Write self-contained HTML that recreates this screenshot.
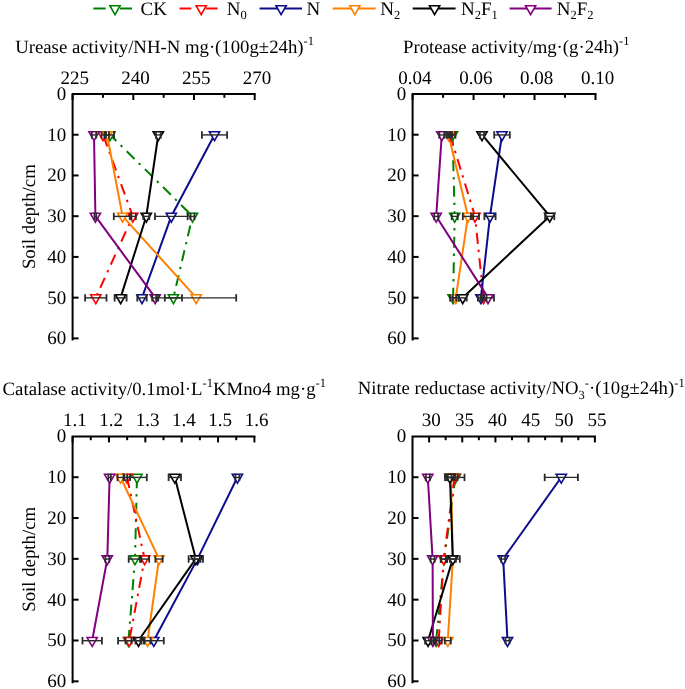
<!DOCTYPE html>
<html><head><meta charset="utf-8"><style>html,body{margin:0;padding:0;background:#fff;width:685px;height:689px;overflow:hidden}</style></head><body>
<svg width="685" height="689" viewBox="0 0 685 689" style="display:block;font-family:'Liberation Serif', serif;text-rendering:geometricPrecision;will-change:transform">
<rect width="685" height="689" fill="#fff"/>
<line x1="93.3" y1="8.5" x2="105.7" y2="8.5" stroke="#008000" stroke-width="2.0"/>
<line x1="120.0" y1="8.5" x2="132.0" y2="8.5" stroke="#008000" stroke-width="2.0"/>
<polygon points="109.90,5.76 120.10,5.76 115.00,14.59" fill="#fff" stroke="#008000" stroke-width="1.6" stroke-linejoin="miter"/>
<text x="140.5" y="14.9" font-size="19" fill="#000"><tspan y="14.9">CK</tspan></text>
<line x1="179.6" y1="8.5" x2="191.3" y2="8.5" stroke="#ff0000" stroke-width="2.0"/>
<line x1="206.2" y1="8.5" x2="217.6" y2="8.5" stroke="#ff0000" stroke-width="2.0"/>
<polygon points="196.10,5.76 206.30,5.76 201.20,14.59" fill="#fff" stroke="#ff0000" stroke-width="1.6" stroke-linejoin="miter"/>
<text x="226.8" y="14.9" font-size="19" fill="#000"><tspan y="14.9">N</tspan><tspan font-size="12.5" y="19.4">0</tspan></text>
<line x1="259.6" y1="8.5" x2="302.0" y2="8.5" stroke="#0c0c8c" stroke-width="2.0"/>
<polygon points="276.00,5.76 286.20,5.76 281.10,14.59" fill="#fff" stroke="#0c0c8c" stroke-width="1.6" stroke-linejoin="miter"/>
<text x="306.6" y="14.9" font-size="19" fill="#000"><tspan y="14.9">N</tspan></text>
<line x1="332.7" y1="8.5" x2="375.6" y2="8.5" stroke="#ff8000" stroke-width="2.0"/>
<polygon points="349.70,5.76 359.90,5.76 354.80,14.59" fill="#fff" stroke="#ff8000" stroke-width="1.6" stroke-linejoin="miter"/>
<text x="380.2" y="14.9" font-size="19" fill="#000"><tspan y="14.9">N</tspan><tspan font-size="12.5" y="19.4">2</tspan></text>
<line x1="412.7" y1="8.5" x2="455.6" y2="8.5" stroke="#000000" stroke-width="2.0"/>
<polygon points="429.50,5.76 439.70,5.76 434.60,14.59" fill="#fff" stroke="#000000" stroke-width="1.6" stroke-linejoin="miter"/>
<text x="461.0" y="14.9" font-size="19" fill="#000"><tspan y="14.9">N</tspan><tspan font-size="12.5" y="19.4">2</tspan><tspan y="14.9">F</tspan><tspan font-size="12.5" y="19.4">1</tspan></text>
<line x1="509.6" y1="8.5" x2="551.6" y2="8.5" stroke="#800080" stroke-width="2.0"/>
<polygon points="525.50,5.76 535.70,5.76 530.60,14.59" fill="#fff" stroke="#800080" stroke-width="1.6" stroke-linejoin="miter"/>
<text x="556.8" y="14.9" font-size="19" fill="#000"><tspan y="14.9">N</tspan><tspan font-size="12.5" y="19.4">2</tspan><tspan y="14.9">F</tspan><tspan font-size="12.5" y="19.4">2</tspan></text>
<text x="15.2" y="52.8" font-size="18.75"><tspan y="52.8">Urease activity/NH-N mg·(100g±24h)</tspan><tspan font-size="12.5" y="45.00">-1</tspan></text>
<text x="403.0" y="52.9" font-size="18.75"><tspan y="52.9">Protease activity/mg·(g·24h)</tspan><tspan font-size="12.5" y="45.10">-1</tspan></text>
<text x="2.6" y="394.9" font-size="18.75"><tspan y="394.9">Catalase activity/0.1mol·L</tspan><tspan font-size="12.5" y="387.10">-1</tspan><tspan y="394.9">KMno4 mg·g</tspan><tspan font-size="12.5" y="387.10">-1</tspan></text>
<text x="357.8" y="394.3" font-size="18.75"><tspan y="394.3">Nitrate reductase activity/NO</tspan><tspan font-size="12.5" y="398.80">3</tspan><tspan font-size="12.5" y="386.50">-</tspan><tspan y="394.3">·(10g±24h)</tspan><tspan font-size="12.5" y="386.50">-1</tspan></text>
<g><path d="M72.60,339.38 L72.60,94.00 L254.70,94.00" fill="none" stroke="#000" stroke-width="2" stroke-linecap="square"/>
<line x1="72.60" y1="94.00" x2="72.60" y2="100.00" stroke="#000" stroke-width="2"/>
<line x1="133.30" y1="94.00" x2="133.30" y2="100.00" stroke="#000" stroke-width="2"/>
<line x1="194.00" y1="94.00" x2="194.00" y2="100.00" stroke="#000" stroke-width="2"/>
<line x1="254.70" y1="94.00" x2="254.70" y2="100.00" stroke="#000" stroke-width="2"/>
<line x1="102.95" y1="94.00" x2="102.95" y2="97.80" stroke="#000" stroke-width="2"/>
<line x1="163.65" y1="94.00" x2="163.65" y2="97.80" stroke="#000" stroke-width="2"/>
<line x1="224.35" y1="94.00" x2="224.35" y2="97.80" stroke="#000" stroke-width="2"/>
<text x="74.80" y="83.50" font-size="19" text-anchor="middle">225</text>
<text x="135.50" y="83.50" font-size="19" text-anchor="middle">240</text>
<text x="196.20" y="83.50" font-size="19" text-anchor="middle">255</text>
<text x="256.90" y="83.50" font-size="19" text-anchor="middle">270</text>
<text x="66.30" y="99.90" font-size="19" text-anchor="end">0</text>
<line x1="72.60" y1="134.73" x2="78.60" y2="134.73" stroke="#000" stroke-width="2"/>
<text x="66.30" y="140.63" font-size="19" text-anchor="end">10</text>
<line x1="72.60" y1="175.46" x2="78.60" y2="175.46" stroke="#000" stroke-width="2"/>
<text x="66.30" y="181.36" font-size="19" text-anchor="end">20</text>
<line x1="72.60" y1="216.19" x2="78.60" y2="216.19" stroke="#000" stroke-width="2"/>
<text x="66.30" y="222.09" font-size="19" text-anchor="end">30</text>
<line x1="72.60" y1="256.92" x2="78.60" y2="256.92" stroke="#000" stroke-width="2"/>
<text x="66.30" y="262.82" font-size="19" text-anchor="end">40</text>
<line x1="72.60" y1="297.65" x2="78.60" y2="297.65" stroke="#000" stroke-width="2"/>
<text x="66.30" y="303.55" font-size="19" text-anchor="end">50</text>
<line x1="72.60" y1="338.38" x2="78.60" y2="338.38" stroke="#000" stroke-width="2"/>
<text x="66.30" y="344.28" font-size="19" text-anchor="end">60</text>
<text transform="translate(34.8,216.69) rotate(-90)" font-size="18.8" text-anchor="middle">Soil depth/cm</text>
<polyline points="110.00,134.73 192.50,216.19 173.40,297.65" fill="none" stroke="#008000" stroke-width="2.0" stroke-dasharray="11 5.9 2.4 6.2" stroke-dashoffset="2.0" stroke-linejoin="round"/>
<polyline points="103.00,134.73 132.80,216.19 95.80,297.65" fill="none" stroke="#ff0000" stroke-width="2.0" stroke-dasharray="11 5.9 2.4 6.2" stroke-dashoffset="-1.5" stroke-linejoin="round"/>
<polyline points="214.50,134.73 171.30,216.19 142.00,297.65" fill="none" stroke="#0c0c8c" stroke-width="2.0" stroke-linejoin="round"/>
<polyline points="107.00,134.73 122.60,216.19 196.20,297.65" fill="none" stroke="#ff8000" stroke-width="2.0" stroke-linejoin="round"/>
<polyline points="158.30,134.73 146.30,216.19 120.60,297.65" fill="none" stroke="#000000" stroke-width="2.0" stroke-linejoin="round"/>
<polyline points="94.00,134.73 95.40,216.19 155.20,297.65" fill="none" stroke="#800080" stroke-width="2.0" stroke-linejoin="round"/>
<polygon points="104.90,131.79 115.10,131.79 110.00,140.62" fill="#fff" stroke="#008000" stroke-width="1.6" stroke-linejoin="miter"/>
<polygon points="187.40,213.25 197.60,213.25 192.50,222.08" fill="#fff" stroke="#008000" stroke-width="1.6" stroke-linejoin="miter"/>
<polygon points="168.30,294.71 178.50,294.71 173.40,303.54" fill="#fff" stroke="#008000" stroke-width="1.6" stroke-linejoin="miter"/>
<polygon points="97.90,131.79 108.10,131.79 103.00,140.62" fill="#fff" stroke="#ff0000" stroke-width="1.6" stroke-linejoin="miter"/>
<polygon points="127.70,213.25 137.90,213.25 132.80,222.08" fill="#fff" stroke="#ff0000" stroke-width="1.6" stroke-linejoin="miter"/>
<polygon points="90.70,294.71 100.90,294.71 95.80,303.54" fill="#fff" stroke="#ff0000" stroke-width="1.6" stroke-linejoin="miter"/>
<polygon points="209.40,131.79 219.60,131.79 214.50,140.62" fill="#fff" stroke="#0c0c8c" stroke-width="1.6" stroke-linejoin="miter"/>
<polygon points="166.20,213.25 176.40,213.25 171.30,222.08" fill="#fff" stroke="#0c0c8c" stroke-width="1.6" stroke-linejoin="miter"/>
<polygon points="136.90,294.71 147.10,294.71 142.00,303.54" fill="#fff" stroke="#0c0c8c" stroke-width="1.6" stroke-linejoin="miter"/>
<polygon points="101.90,131.79 112.10,131.79 107.00,140.62" fill="#fff" stroke="#ff8000" stroke-width="1.6" stroke-linejoin="miter"/>
<polygon points="117.50,213.25 127.70,213.25 122.60,222.08" fill="#fff" stroke="#ff8000" stroke-width="1.6" stroke-linejoin="miter"/>
<polygon points="191.10,294.71 201.30,294.71 196.20,303.54" fill="#fff" stroke="#ff8000" stroke-width="1.6" stroke-linejoin="miter"/>
<polygon points="153.20,131.79 163.40,131.79 158.30,140.62" fill="#fff" stroke="#000000" stroke-width="1.6" stroke-linejoin="miter"/>
<polygon points="141.20,213.25 151.40,213.25 146.30,222.08" fill="#fff" stroke="#000000" stroke-width="1.6" stroke-linejoin="miter"/>
<polygon points="115.50,294.71 125.70,294.71 120.60,303.54" fill="#fff" stroke="#000000" stroke-width="1.6" stroke-linejoin="miter"/>
<polygon points="88.90,131.79 99.10,131.79 94.00,140.62" fill="#fff" stroke="#800080" stroke-width="1.6" stroke-linejoin="miter"/>
<polygon points="90.30,213.25 100.50,213.25 95.40,222.08" fill="#fff" stroke="#800080" stroke-width="1.6" stroke-linejoin="miter"/>
<polygon points="150.10,294.71 160.30,294.71 155.20,303.54" fill="#fff" stroke="#800080" stroke-width="1.6" stroke-linejoin="miter"/>
<line x1="106.00" y1="134.93" x2="114.00" y2="134.93" stroke="#2a2a2a" stroke-width="1.4"/>
<line x1="106.00" y1="131.23" x2="106.00" y2="138.63" stroke="#2a2a2a" stroke-width="1.8"/>
<line x1="114.00" y1="131.23" x2="114.00" y2="138.63" stroke="#2a2a2a" stroke-width="1.8"/>
<line x1="190.50" y1="216.39" x2="194.50" y2="216.39" stroke="#2a2a2a" stroke-width="1.4"/>
<line x1="190.50" y1="212.69" x2="190.50" y2="220.09" stroke="#2a2a2a" stroke-width="1.8"/>
<line x1="194.50" y1="212.69" x2="194.50" y2="220.09" stroke="#2a2a2a" stroke-width="1.8"/>
<line x1="164.80" y1="297.85" x2="182.00" y2="297.85" stroke="#2a2a2a" stroke-width="1.4"/>
<line x1="164.80" y1="294.15" x2="164.80" y2="301.55" stroke="#2a2a2a" stroke-width="1.8"/>
<line x1="182.00" y1="294.15" x2="182.00" y2="301.55" stroke="#2a2a2a" stroke-width="1.8"/>
<line x1="101.50" y1="134.93" x2="104.50" y2="134.93" stroke="#2a2a2a" stroke-width="1.4"/>
<line x1="101.50" y1="131.23" x2="101.50" y2="138.63" stroke="#2a2a2a" stroke-width="1.8"/>
<line x1="104.50" y1="131.23" x2="104.50" y2="138.63" stroke="#2a2a2a" stroke-width="1.8"/>
<line x1="129.80" y1="216.39" x2="135.80" y2="216.39" stroke="#2a2a2a" stroke-width="1.4"/>
<line x1="129.80" y1="212.69" x2="129.80" y2="220.09" stroke="#2a2a2a" stroke-width="1.8"/>
<line x1="135.80" y1="212.69" x2="135.80" y2="220.09" stroke="#2a2a2a" stroke-width="1.8"/>
<line x1="85.10" y1="297.85" x2="106.50" y2="297.85" stroke="#2a2a2a" stroke-width="1.4"/>
<line x1="85.10" y1="294.15" x2="85.10" y2="301.55" stroke="#2a2a2a" stroke-width="1.8"/>
<line x1="106.50" y1="294.15" x2="106.50" y2="301.55" stroke="#2a2a2a" stroke-width="1.8"/>
<line x1="201.90" y1="134.93" x2="227.10" y2="134.93" stroke="#2a2a2a" stroke-width="1.4"/>
<line x1="201.90" y1="131.23" x2="201.90" y2="138.63" stroke="#2a2a2a" stroke-width="1.8"/>
<line x1="227.10" y1="131.23" x2="227.10" y2="138.63" stroke="#2a2a2a" stroke-width="1.8"/>
<line x1="155.00" y1="216.39" x2="187.60" y2="216.39" stroke="#2a2a2a" stroke-width="1.4"/>
<line x1="155.00" y1="212.69" x2="155.00" y2="220.09" stroke="#2a2a2a" stroke-width="1.8"/>
<line x1="187.60" y1="212.69" x2="187.60" y2="220.09" stroke="#2a2a2a" stroke-width="1.8"/>
<line x1="137.30" y1="297.85" x2="146.70" y2="297.85" stroke="#2a2a2a" stroke-width="1.4"/>
<line x1="137.30" y1="294.15" x2="137.30" y2="301.55" stroke="#2a2a2a" stroke-width="1.8"/>
<line x1="146.70" y1="294.15" x2="146.70" y2="301.55" stroke="#2a2a2a" stroke-width="1.8"/>
<line x1="105.00" y1="134.93" x2="109.00" y2="134.93" stroke="#2a2a2a" stroke-width="1.4"/>
<line x1="105.00" y1="131.23" x2="105.00" y2="138.63" stroke="#2a2a2a" stroke-width="1.8"/>
<line x1="109.00" y1="131.23" x2="109.00" y2="138.63" stroke="#2a2a2a" stroke-width="1.8"/>
<line x1="113.80" y1="216.39" x2="131.40" y2="216.39" stroke="#2a2a2a" stroke-width="1.4"/>
<line x1="113.80" y1="212.69" x2="113.80" y2="220.09" stroke="#2a2a2a" stroke-width="1.8"/>
<line x1="131.40" y1="212.69" x2="131.40" y2="220.09" stroke="#2a2a2a" stroke-width="1.8"/>
<line x1="156.20" y1="297.85" x2="236.20" y2="297.85" stroke="#2a2a2a" stroke-width="1.4"/>
<line x1="156.20" y1="294.15" x2="156.20" y2="301.55" stroke="#2a2a2a" stroke-width="1.8"/>
<line x1="236.20" y1="294.15" x2="236.20" y2="301.55" stroke="#2a2a2a" stroke-width="1.8"/>
<line x1="155.90" y1="134.93" x2="160.70" y2="134.93" stroke="#2a2a2a" stroke-width="1.4"/>
<line x1="155.90" y1="131.23" x2="155.90" y2="138.63" stroke="#2a2a2a" stroke-width="1.8"/>
<line x1="160.70" y1="131.23" x2="160.70" y2="138.63" stroke="#2a2a2a" stroke-width="1.8"/>
<line x1="143.30" y1="216.39" x2="149.30" y2="216.39" stroke="#2a2a2a" stroke-width="1.4"/>
<line x1="143.30" y1="212.69" x2="143.30" y2="220.09" stroke="#2a2a2a" stroke-width="1.8"/>
<line x1="149.30" y1="212.69" x2="149.30" y2="220.09" stroke="#2a2a2a" stroke-width="1.8"/>
<line x1="114.60" y1="297.85" x2="126.60" y2="297.85" stroke="#2a2a2a" stroke-width="1.4"/>
<line x1="114.60" y1="294.15" x2="114.60" y2="301.55" stroke="#2a2a2a" stroke-width="1.8"/>
<line x1="126.60" y1="294.15" x2="126.60" y2="301.55" stroke="#2a2a2a" stroke-width="1.8"/>
<line x1="91.80" y1="134.93" x2="96.20" y2="134.93" stroke="#2a2a2a" stroke-width="1.4"/>
<line x1="91.80" y1="131.23" x2="91.80" y2="138.63" stroke="#2a2a2a" stroke-width="1.8"/>
<line x1="96.20" y1="131.23" x2="96.20" y2="138.63" stroke="#2a2a2a" stroke-width="1.8"/>
<line x1="94.50" y1="216.39" x2="96.30" y2="216.39" stroke="#2a2a2a" stroke-width="1.4"/>
<line x1="94.50" y1="212.69" x2="94.50" y2="220.09" stroke="#2a2a2a" stroke-width="1.8"/>
<line x1="96.30" y1="212.69" x2="96.30" y2="220.09" stroke="#2a2a2a" stroke-width="1.8"/>
<line x1="152.20" y1="297.85" x2="158.20" y2="297.85" stroke="#2a2a2a" stroke-width="1.4"/>
<line x1="152.20" y1="294.15" x2="152.20" y2="301.55" stroke="#2a2a2a" stroke-width="1.8"/>
<line x1="158.20" y1="294.15" x2="158.20" y2="301.55" stroke="#2a2a2a" stroke-width="1.8"/></g>
<g><path d="M412.60,339.38 L412.60,94.00 L595.50,94.00" fill="none" stroke="#000" stroke-width="2" stroke-linecap="square"/>
<line x1="412.60" y1="94.00" x2="412.60" y2="100.00" stroke="#000" stroke-width="2"/>
<line x1="473.57" y1="94.00" x2="473.57" y2="100.00" stroke="#000" stroke-width="2"/>
<line x1="534.53" y1="94.00" x2="534.53" y2="100.00" stroke="#000" stroke-width="2"/>
<line x1="595.50" y1="94.00" x2="595.50" y2="100.00" stroke="#000" stroke-width="2"/>
<line x1="443.08" y1="94.00" x2="443.08" y2="97.80" stroke="#000" stroke-width="2"/>
<line x1="504.05" y1="94.00" x2="504.05" y2="97.80" stroke="#000" stroke-width="2"/>
<line x1="565.02" y1="94.00" x2="565.02" y2="97.80" stroke="#000" stroke-width="2"/>
<text x="414.80" y="83.50" font-size="19" text-anchor="middle">0.04</text>
<text x="475.77" y="83.50" font-size="19" text-anchor="middle">0.06</text>
<text x="536.73" y="83.50" font-size="19" text-anchor="middle">0.08</text>
<text x="597.70" y="83.50" font-size="19" text-anchor="middle">0.10</text>
<text x="406.30" y="99.90" font-size="19" text-anchor="end">0</text>
<line x1="412.60" y1="134.73" x2="418.60" y2="134.73" stroke="#000" stroke-width="2"/>
<text x="406.30" y="140.63" font-size="19" text-anchor="end">10</text>
<line x1="412.60" y1="175.46" x2="418.60" y2="175.46" stroke="#000" stroke-width="2"/>
<text x="406.30" y="181.36" font-size="19" text-anchor="end">20</text>
<line x1="412.60" y1="216.19" x2="418.60" y2="216.19" stroke="#000" stroke-width="2"/>
<text x="406.30" y="222.09" font-size="19" text-anchor="end">30</text>
<line x1="412.60" y1="256.92" x2="418.60" y2="256.92" stroke="#000" stroke-width="2"/>
<text x="406.30" y="262.82" font-size="19" text-anchor="end">40</text>
<line x1="412.60" y1="297.65" x2="418.60" y2="297.65" stroke="#000" stroke-width="2"/>
<text x="406.30" y="303.55" font-size="19" text-anchor="end">50</text>
<line x1="412.60" y1="338.38" x2="418.60" y2="338.38" stroke="#000" stroke-width="2"/>
<text x="406.30" y="344.28" font-size="19" text-anchor="end">60</text>
<polyline points="452.50,134.73 454.70,216.19 453.10,297.65" fill="none" stroke="#008000" stroke-width="2.0" stroke-dasharray="11 5.9 2.4 6.2" stroke-linejoin="round"/>
<polyline points="450.00,134.73 475.00,216.19 483.50,297.65" fill="none" stroke="#ff0000" stroke-width="2.0" stroke-dasharray="11 5.9 2.4 6.2" stroke-linejoin="round"/>
<polyline points="502.00,134.73 490.00,216.19 480.90,297.65" fill="none" stroke="#0c0c8c" stroke-width="2.0" stroke-linejoin="round"/>
<polyline points="448.50,134.73 468.00,216.19 455.80,297.65" fill="none" stroke="#ff8000" stroke-width="2.0" stroke-linejoin="round"/>
<polyline points="482.00,134.73 549.70,216.19 462.70,297.65" fill="none" stroke="#000000" stroke-width="2.0" stroke-linejoin="round"/>
<polyline points="441.80,134.73 436.20,216.19 488.00,297.65" fill="none" stroke="#800080" stroke-width="2.0" stroke-linejoin="round"/>
<polygon points="447.40,131.79 457.60,131.79 452.50,140.62" fill="#fff" stroke="#008000" stroke-width="1.6" stroke-linejoin="miter"/>
<polygon points="449.60,213.25 459.80,213.25 454.70,222.08" fill="#fff" stroke="#008000" stroke-width="1.6" stroke-linejoin="miter"/>
<polygon points="448.00,294.71 458.20,294.71 453.10,303.54" fill="#fff" stroke="#008000" stroke-width="1.6" stroke-linejoin="miter"/>
<polygon points="444.90,131.79 455.10,131.79 450.00,140.62" fill="#fff" stroke="#ff0000" stroke-width="1.6" stroke-linejoin="miter"/>
<polygon points="469.90,213.25 480.10,213.25 475.00,222.08" fill="#fff" stroke="#ff0000" stroke-width="1.6" stroke-linejoin="miter"/>
<polygon points="478.40,294.71 488.60,294.71 483.50,303.54" fill="#fff" stroke="#ff0000" stroke-width="1.6" stroke-linejoin="miter"/>
<polygon points="496.90,131.79 507.10,131.79 502.00,140.62" fill="#fff" stroke="#0c0c8c" stroke-width="1.6" stroke-linejoin="miter"/>
<polygon points="484.90,213.25 495.10,213.25 490.00,222.08" fill="#fff" stroke="#0c0c8c" stroke-width="1.6" stroke-linejoin="miter"/>
<polygon points="475.80,294.71 486.00,294.71 480.90,303.54" fill="#fff" stroke="#0c0c8c" stroke-width="1.6" stroke-linejoin="miter"/>
<polygon points="443.40,131.79 453.60,131.79 448.50,140.62" fill="#fff" stroke="#ff8000" stroke-width="1.6" stroke-linejoin="miter"/>
<polygon points="462.90,213.25 473.10,213.25 468.00,222.08" fill="#fff" stroke="#ff8000" stroke-width="1.6" stroke-linejoin="miter"/>
<polygon points="450.70,294.71 460.90,294.71 455.80,303.54" fill="#fff" stroke="#ff8000" stroke-width="1.6" stroke-linejoin="miter"/>
<polygon points="476.90,131.79 487.10,131.79 482.00,140.62" fill="#fff" stroke="#000000" stroke-width="1.6" stroke-linejoin="miter"/>
<polygon points="544.60,213.25 554.80,213.25 549.70,222.08" fill="#fff" stroke="#000000" stroke-width="1.6" stroke-linejoin="miter"/>
<polygon points="457.60,294.71 467.80,294.71 462.70,303.54" fill="#fff" stroke="#000000" stroke-width="1.6" stroke-linejoin="miter"/>
<polygon points="436.70,131.79 446.90,131.79 441.80,140.62" fill="#fff" stroke="#800080" stroke-width="1.6" stroke-linejoin="miter"/>
<polygon points="431.10,213.25 441.30,213.25 436.20,222.08" fill="#fff" stroke="#800080" stroke-width="1.6" stroke-linejoin="miter"/>
<polygon points="482.90,294.71 493.10,294.71 488.00,303.54" fill="#fff" stroke="#800080" stroke-width="1.6" stroke-linejoin="miter"/>
<line x1="449.50" y1="134.93" x2="455.50" y2="134.93" stroke="#2a2a2a" stroke-width="1.4"/>
<line x1="449.50" y1="131.23" x2="449.50" y2="138.63" stroke="#2a2a2a" stroke-width="1.8"/>
<line x1="455.50" y1="131.23" x2="455.50" y2="138.63" stroke="#2a2a2a" stroke-width="1.8"/>
<line x1="451.70" y1="216.39" x2="457.70" y2="216.39" stroke="#2a2a2a" stroke-width="1.4"/>
<line x1="451.70" y1="212.69" x2="451.70" y2="220.09" stroke="#2a2a2a" stroke-width="1.8"/>
<line x1="457.70" y1="212.69" x2="457.70" y2="220.09" stroke="#2a2a2a" stroke-width="1.8"/>
<line x1="450.10" y1="297.85" x2="456.10" y2="297.85" stroke="#2a2a2a" stroke-width="1.4"/>
<line x1="450.10" y1="294.15" x2="450.10" y2="301.55" stroke="#2a2a2a" stroke-width="1.8"/>
<line x1="456.10" y1="294.15" x2="456.10" y2="301.55" stroke="#2a2a2a" stroke-width="1.8"/>
<line x1="448.00" y1="134.93" x2="452.00" y2="134.93" stroke="#2a2a2a" stroke-width="1.4"/>
<line x1="448.00" y1="131.23" x2="448.00" y2="138.63" stroke="#2a2a2a" stroke-width="1.8"/>
<line x1="452.00" y1="131.23" x2="452.00" y2="138.63" stroke="#2a2a2a" stroke-width="1.8"/>
<line x1="471.00" y1="216.39" x2="479.00" y2="216.39" stroke="#2a2a2a" stroke-width="1.4"/>
<line x1="471.00" y1="212.69" x2="471.00" y2="220.09" stroke="#2a2a2a" stroke-width="1.8"/>
<line x1="479.00" y1="212.69" x2="479.00" y2="220.09" stroke="#2a2a2a" stroke-width="1.8"/>
<line x1="480.50" y1="297.85" x2="486.50" y2="297.85" stroke="#2a2a2a" stroke-width="1.4"/>
<line x1="480.50" y1="294.15" x2="480.50" y2="301.55" stroke="#2a2a2a" stroke-width="1.8"/>
<line x1="486.50" y1="294.15" x2="486.50" y2="301.55" stroke="#2a2a2a" stroke-width="1.8"/>
<line x1="494.20" y1="134.93" x2="509.80" y2="134.93" stroke="#2a2a2a" stroke-width="1.4"/>
<line x1="494.20" y1="131.23" x2="494.20" y2="138.63" stroke="#2a2a2a" stroke-width="1.8"/>
<line x1="509.80" y1="131.23" x2="509.80" y2="138.63" stroke="#2a2a2a" stroke-width="1.8"/>
<line x1="484.40" y1="216.39" x2="495.60" y2="216.39" stroke="#2a2a2a" stroke-width="1.4"/>
<line x1="484.40" y1="212.69" x2="484.40" y2="220.09" stroke="#2a2a2a" stroke-width="1.8"/>
<line x1="495.60" y1="212.69" x2="495.60" y2="220.09" stroke="#2a2a2a" stroke-width="1.8"/>
<line x1="477.90" y1="297.85" x2="483.90" y2="297.85" stroke="#2a2a2a" stroke-width="1.4"/>
<line x1="477.90" y1="294.15" x2="477.90" y2="301.55" stroke="#2a2a2a" stroke-width="1.8"/>
<line x1="483.90" y1="294.15" x2="483.90" y2="301.55" stroke="#2a2a2a" stroke-width="1.8"/>
<line x1="446.50" y1="134.93" x2="450.50" y2="134.93" stroke="#2a2a2a" stroke-width="1.4"/>
<line x1="446.50" y1="131.23" x2="446.50" y2="138.63" stroke="#2a2a2a" stroke-width="1.8"/>
<line x1="450.50" y1="131.23" x2="450.50" y2="138.63" stroke="#2a2a2a" stroke-width="1.8"/>
<line x1="462.80" y1="216.39" x2="473.20" y2="216.39" stroke="#2a2a2a" stroke-width="1.4"/>
<line x1="462.80" y1="212.69" x2="462.80" y2="220.09" stroke="#2a2a2a" stroke-width="1.8"/>
<line x1="473.20" y1="212.69" x2="473.20" y2="220.09" stroke="#2a2a2a" stroke-width="1.8"/>
<line x1="452.80" y1="297.85" x2="458.80" y2="297.85" stroke="#2a2a2a" stroke-width="1.4"/>
<line x1="452.80" y1="294.15" x2="452.80" y2="301.55" stroke="#2a2a2a" stroke-width="1.8"/>
<line x1="458.80" y1="294.15" x2="458.80" y2="301.55" stroke="#2a2a2a" stroke-width="1.8"/>
<line x1="480.00" y1="134.93" x2="484.00" y2="134.93" stroke="#2a2a2a" stroke-width="1.4"/>
<line x1="480.00" y1="131.23" x2="480.00" y2="138.63" stroke="#2a2a2a" stroke-width="1.8"/>
<line x1="484.00" y1="131.23" x2="484.00" y2="138.63" stroke="#2a2a2a" stroke-width="1.8"/>
<line x1="545.10" y1="216.39" x2="554.30" y2="216.39" stroke="#2a2a2a" stroke-width="1.4"/>
<line x1="545.10" y1="212.69" x2="545.10" y2="220.09" stroke="#2a2a2a" stroke-width="1.8"/>
<line x1="554.30" y1="212.69" x2="554.30" y2="220.09" stroke="#2a2a2a" stroke-width="1.8"/>
<line x1="458.70" y1="297.85" x2="466.70" y2="297.85" stroke="#2a2a2a" stroke-width="1.4"/>
<line x1="458.70" y1="294.15" x2="458.70" y2="301.55" stroke="#2a2a2a" stroke-width="1.8"/>
<line x1="466.70" y1="294.15" x2="466.70" y2="301.55" stroke="#2a2a2a" stroke-width="1.8"/>
<line x1="439.30" y1="134.93" x2="444.30" y2="134.93" stroke="#2a2a2a" stroke-width="1.4"/>
<line x1="439.30" y1="131.23" x2="439.30" y2="138.63" stroke="#2a2a2a" stroke-width="1.8"/>
<line x1="444.30" y1="131.23" x2="444.30" y2="138.63" stroke="#2a2a2a" stroke-width="1.8"/>
<line x1="434.20" y1="216.39" x2="438.20" y2="216.39" stroke="#2a2a2a" stroke-width="1.4"/>
<line x1="434.20" y1="212.69" x2="434.20" y2="220.09" stroke="#2a2a2a" stroke-width="1.8"/>
<line x1="438.20" y1="212.69" x2="438.20" y2="220.09" stroke="#2a2a2a" stroke-width="1.8"/>
<line x1="482.00" y1="297.85" x2="494.00" y2="297.85" stroke="#2a2a2a" stroke-width="1.4"/>
<line x1="482.00" y1="294.15" x2="482.00" y2="301.55" stroke="#2a2a2a" stroke-width="1.8"/>
<line x1="494.00" y1="294.15" x2="494.00" y2="301.55" stroke="#2a2a2a" stroke-width="1.8"/></g>
<g><path d="M72.60,682.32 L72.60,436.40 L254.40,436.40" fill="none" stroke="#000" stroke-width="2" stroke-linecap="square"/>
<line x1="72.60" y1="436.40" x2="72.60" y2="442.40" stroke="#000" stroke-width="2"/>
<line x1="108.96" y1="436.40" x2="108.96" y2="442.40" stroke="#000" stroke-width="2"/>
<line x1="145.32" y1="436.40" x2="145.32" y2="442.40" stroke="#000" stroke-width="2"/>
<line x1="181.68" y1="436.40" x2="181.68" y2="442.40" stroke="#000" stroke-width="2"/>
<line x1="218.04" y1="436.40" x2="218.04" y2="442.40" stroke="#000" stroke-width="2"/>
<line x1="254.40" y1="436.40" x2="254.40" y2="442.40" stroke="#000" stroke-width="2"/>
<line x1="90.78" y1="436.40" x2="90.78" y2="440.20" stroke="#000" stroke-width="2"/>
<line x1="127.14" y1="436.40" x2="127.14" y2="440.20" stroke="#000" stroke-width="2"/>
<line x1="163.50" y1="436.40" x2="163.50" y2="440.20" stroke="#000" stroke-width="2"/>
<line x1="199.86" y1="436.40" x2="199.86" y2="440.20" stroke="#000" stroke-width="2"/>
<line x1="236.22" y1="436.40" x2="236.22" y2="440.20" stroke="#000" stroke-width="2"/>
<text x="74.80" y="425.90" font-size="19" text-anchor="middle">1.1</text>
<text x="111.16" y="425.90" font-size="19" text-anchor="middle">1.2</text>
<text x="147.52" y="425.90" font-size="19" text-anchor="middle">1.3</text>
<text x="183.88" y="425.90" font-size="19" text-anchor="middle">1.4</text>
<text x="220.24" y="425.90" font-size="19" text-anchor="middle">1.5</text>
<text x="256.60" y="425.90" font-size="19" text-anchor="middle">1.6</text>
<text x="66.30" y="442.30" font-size="19" text-anchor="end">0</text>
<line x1="72.60" y1="477.22" x2="78.60" y2="477.22" stroke="#000" stroke-width="2"/>
<text x="66.30" y="483.12" font-size="19" text-anchor="end">10</text>
<line x1="72.60" y1="518.04" x2="78.60" y2="518.04" stroke="#000" stroke-width="2"/>
<text x="66.30" y="523.94" font-size="19" text-anchor="end">20</text>
<line x1="72.60" y1="558.86" x2="78.60" y2="558.86" stroke="#000" stroke-width="2"/>
<text x="66.30" y="564.76" font-size="19" text-anchor="end">30</text>
<line x1="72.60" y1="599.68" x2="78.60" y2="599.68" stroke="#000" stroke-width="2"/>
<text x="66.30" y="605.58" font-size="19" text-anchor="end">40</text>
<line x1="72.60" y1="640.50" x2="78.60" y2="640.50" stroke="#000" stroke-width="2"/>
<text x="66.30" y="646.40" font-size="19" text-anchor="end">50</text>
<line x1="72.60" y1="681.32" x2="78.60" y2="681.32" stroke="#000" stroke-width="2"/>
<text x="66.30" y="687.22" font-size="19" text-anchor="end">60</text>
<text transform="translate(34.8,559.36) rotate(-90)" font-size="18.8" text-anchor="middle">Soil depth/cm</text>
<polyline points="137.00,477.22 135.00,558.86 128.50,640.50" fill="none" stroke="#008000" stroke-width="2.0" stroke-dasharray="11 5.9 2.4 6.2" stroke-linejoin="round"/>
<polyline points="127.00,477.22 144.60,558.86 129.30,640.50" fill="none" stroke="#ff0000" stroke-width="2.0" stroke-dasharray="11 5.9 2.4 6.2" stroke-linejoin="round"/>
<polyline points="237.40,477.22 197.50,558.86 153.80,640.50" fill="none" stroke="#0c0c8c" stroke-width="2.0" stroke-linejoin="round"/>
<polyline points="120.50,477.22 159.00,558.86 147.60,640.50" fill="none" stroke="#ff8000" stroke-width="2.0" stroke-linejoin="round"/>
<polyline points="174.80,477.22 195.80,558.86 138.50,640.50" fill="none" stroke="#000000" stroke-width="2.0" stroke-linejoin="round"/>
<polyline points="109.60,477.22 107.30,558.86 92.20,640.50" fill="none" stroke="#800080" stroke-width="2.0" stroke-linejoin="round"/>
<polygon points="131.90,474.28 142.10,474.28 137.00,483.11" fill="#fff" stroke="#008000" stroke-width="1.6" stroke-linejoin="miter"/>
<polygon points="129.90,555.92 140.10,555.92 135.00,564.75" fill="#fff" stroke="#008000" stroke-width="1.6" stroke-linejoin="miter"/>
<polygon points="123.40,637.56 133.60,637.56 128.50,646.39" fill="#fff" stroke="#008000" stroke-width="1.6" stroke-linejoin="miter"/>
<polygon points="121.90,474.28 132.10,474.28 127.00,483.11" fill="#fff" stroke="#ff0000" stroke-width="1.6" stroke-linejoin="miter"/>
<polygon points="139.50,555.92 149.70,555.92 144.60,564.75" fill="#fff" stroke="#ff0000" stroke-width="1.6" stroke-linejoin="miter"/>
<polygon points="124.20,637.56 134.40,637.56 129.30,646.39" fill="#fff" stroke="#ff0000" stroke-width="1.6" stroke-linejoin="miter"/>
<polygon points="232.30,474.28 242.50,474.28 237.40,483.11" fill="#fff" stroke="#0c0c8c" stroke-width="1.6" stroke-linejoin="miter"/>
<polygon points="192.40,555.92 202.60,555.92 197.50,564.75" fill="#fff" stroke="#0c0c8c" stroke-width="1.6" stroke-linejoin="miter"/>
<polygon points="148.70,637.56 158.90,637.56 153.80,646.39" fill="#fff" stroke="#0c0c8c" stroke-width="1.6" stroke-linejoin="miter"/>
<polygon points="115.40,474.28 125.60,474.28 120.50,483.11" fill="#fff" stroke="#ff8000" stroke-width="1.6" stroke-linejoin="miter"/>
<polygon points="153.90,555.92 164.10,555.92 159.00,564.75" fill="#fff" stroke="#ff8000" stroke-width="1.6" stroke-linejoin="miter"/>
<polygon points="142.50,637.56 152.70,637.56 147.60,646.39" fill="#fff" stroke="#ff8000" stroke-width="1.6" stroke-linejoin="miter"/>
<polygon points="169.70,474.28 179.90,474.28 174.80,483.11" fill="#fff" stroke="#000000" stroke-width="1.6" stroke-linejoin="miter"/>
<polygon points="190.70,555.92 200.90,555.92 195.80,564.75" fill="#fff" stroke="#000000" stroke-width="1.6" stroke-linejoin="miter"/>
<polygon points="133.40,637.56 143.60,637.56 138.50,646.39" fill="#fff" stroke="#000000" stroke-width="1.6" stroke-linejoin="miter"/>
<polygon points="104.50,474.28 114.70,474.28 109.60,483.11" fill="#fff" stroke="#800080" stroke-width="1.6" stroke-linejoin="miter"/>
<polygon points="102.20,555.92 112.40,555.92 107.30,564.75" fill="#fff" stroke="#800080" stroke-width="1.6" stroke-linejoin="miter"/>
<polygon points="87.10,637.56 97.30,637.56 92.20,646.39" fill="#fff" stroke="#800080" stroke-width="1.6" stroke-linejoin="miter"/>
<line x1="127.20" y1="477.42" x2="146.80" y2="477.42" stroke="#2a2a2a" stroke-width="1.4"/>
<line x1="127.20" y1="473.72" x2="127.20" y2="481.12" stroke="#2a2a2a" stroke-width="1.8"/>
<line x1="146.80" y1="473.72" x2="146.80" y2="481.12" stroke="#2a2a2a" stroke-width="1.8"/>
<line x1="128.70" y1="559.06" x2="141.30" y2="559.06" stroke="#2a2a2a" stroke-width="1.4"/>
<line x1="128.70" y1="555.36" x2="128.70" y2="562.76" stroke="#2a2a2a" stroke-width="1.8"/>
<line x1="141.30" y1="555.36" x2="141.30" y2="562.76" stroke="#2a2a2a" stroke-width="1.8"/>
<line x1="125.50" y1="640.70" x2="131.50" y2="640.70" stroke="#2a2a2a" stroke-width="1.4"/>
<line x1="125.50" y1="637.00" x2="125.50" y2="644.40" stroke="#2a2a2a" stroke-width="1.8"/>
<line x1="131.50" y1="637.00" x2="131.50" y2="644.40" stroke="#2a2a2a" stroke-width="1.8"/>
<line x1="124.00" y1="477.42" x2="130.00" y2="477.42" stroke="#2a2a2a" stroke-width="1.4"/>
<line x1="124.00" y1="473.72" x2="124.00" y2="481.12" stroke="#2a2a2a" stroke-width="1.8"/>
<line x1="130.00" y1="473.72" x2="130.00" y2="481.12" stroke="#2a2a2a" stroke-width="1.8"/>
<line x1="140.00" y1="559.06" x2="149.20" y2="559.06" stroke="#2a2a2a" stroke-width="1.4"/>
<line x1="140.00" y1="555.36" x2="140.00" y2="562.76" stroke="#2a2a2a" stroke-width="1.8"/>
<line x1="149.20" y1="555.36" x2="149.20" y2="562.76" stroke="#2a2a2a" stroke-width="1.8"/>
<line x1="118.10" y1="640.70" x2="140.50" y2="640.70" stroke="#2a2a2a" stroke-width="1.4"/>
<line x1="118.10" y1="637.00" x2="118.10" y2="644.40" stroke="#2a2a2a" stroke-width="1.8"/>
<line x1="140.50" y1="637.00" x2="140.50" y2="644.40" stroke="#2a2a2a" stroke-width="1.8"/>
<line x1="235.40" y1="477.42" x2="239.40" y2="477.42" stroke="#2a2a2a" stroke-width="1.4"/>
<line x1="235.40" y1="473.72" x2="235.40" y2="481.12" stroke="#2a2a2a" stroke-width="1.8"/>
<line x1="239.40" y1="473.72" x2="239.40" y2="481.12" stroke="#2a2a2a" stroke-width="1.8"/>
<line x1="194.50" y1="559.06" x2="200.50" y2="559.06" stroke="#2a2a2a" stroke-width="1.4"/>
<line x1="194.50" y1="555.36" x2="194.50" y2="562.76" stroke="#2a2a2a" stroke-width="1.8"/>
<line x1="200.50" y1="555.36" x2="200.50" y2="562.76" stroke="#2a2a2a" stroke-width="1.8"/>
<line x1="143.80" y1="640.70" x2="163.80" y2="640.70" stroke="#2a2a2a" stroke-width="1.4"/>
<line x1="143.80" y1="637.00" x2="143.80" y2="644.40" stroke="#2a2a2a" stroke-width="1.8"/>
<line x1="163.80" y1="637.00" x2="163.80" y2="644.40" stroke="#2a2a2a" stroke-width="1.8"/>
<line x1="117.50" y1="477.42" x2="123.50" y2="477.42" stroke="#2a2a2a" stroke-width="1.4"/>
<line x1="117.50" y1="473.72" x2="117.50" y2="481.12" stroke="#2a2a2a" stroke-width="1.8"/>
<line x1="123.50" y1="473.72" x2="123.50" y2="481.12" stroke="#2a2a2a" stroke-width="1.8"/>
<line x1="155.40" y1="559.06" x2="162.60" y2="559.06" stroke="#2a2a2a" stroke-width="1.4"/>
<line x1="155.40" y1="555.36" x2="155.40" y2="562.76" stroke="#2a2a2a" stroke-width="1.8"/>
<line x1="162.60" y1="555.36" x2="162.60" y2="562.76" stroke="#2a2a2a" stroke-width="1.8"/>
<line x1="144.60" y1="640.70" x2="150.60" y2="640.70" stroke="#2a2a2a" stroke-width="1.4"/>
<line x1="144.60" y1="637.00" x2="144.60" y2="644.40" stroke="#2a2a2a" stroke-width="1.8"/>
<line x1="150.60" y1="637.00" x2="150.60" y2="644.40" stroke="#2a2a2a" stroke-width="1.8"/>
<line x1="168.60" y1="477.42" x2="181.00" y2="477.42" stroke="#2a2a2a" stroke-width="1.4"/>
<line x1="168.60" y1="473.72" x2="168.60" y2="481.12" stroke="#2a2a2a" stroke-width="1.8"/>
<line x1="181.00" y1="473.72" x2="181.00" y2="481.12" stroke="#2a2a2a" stroke-width="1.8"/>
<line x1="188.60" y1="559.06" x2="203.00" y2="559.06" stroke="#2a2a2a" stroke-width="1.4"/>
<line x1="188.60" y1="555.36" x2="188.60" y2="562.76" stroke="#2a2a2a" stroke-width="1.8"/>
<line x1="203.00" y1="555.36" x2="203.00" y2="562.76" stroke="#2a2a2a" stroke-width="1.8"/>
<line x1="135.50" y1="640.70" x2="141.50" y2="640.70" stroke="#2a2a2a" stroke-width="1.4"/>
<line x1="135.50" y1="637.00" x2="135.50" y2="644.40" stroke="#2a2a2a" stroke-width="1.8"/>
<line x1="141.50" y1="637.00" x2="141.50" y2="644.40" stroke="#2a2a2a" stroke-width="1.8"/>
<line x1="108.30" y1="477.42" x2="110.90" y2="477.42" stroke="#2a2a2a" stroke-width="1.4"/>
<line x1="108.30" y1="473.72" x2="108.30" y2="481.12" stroke="#2a2a2a" stroke-width="1.8"/>
<line x1="110.90" y1="473.72" x2="110.90" y2="481.12" stroke="#2a2a2a" stroke-width="1.8"/>
<line x1="105.30" y1="559.06" x2="109.30" y2="559.06" stroke="#2a2a2a" stroke-width="1.4"/>
<line x1="105.30" y1="555.36" x2="105.30" y2="562.76" stroke="#2a2a2a" stroke-width="1.8"/>
<line x1="109.30" y1="555.36" x2="109.30" y2="562.76" stroke="#2a2a2a" stroke-width="1.8"/>
<line x1="82.50" y1="640.70" x2="101.90" y2="640.70" stroke="#2a2a2a" stroke-width="1.4"/>
<line x1="82.50" y1="637.00" x2="82.50" y2="644.40" stroke="#2a2a2a" stroke-width="1.8"/>
<line x1="101.90" y1="637.00" x2="101.90" y2="644.40" stroke="#2a2a2a" stroke-width="1.8"/></g>
<g><path d="M412.50,682.32 L412.50,436.40 L594.90,436.40" fill="none" stroke="#000" stroke-width="2" stroke-linecap="square"/>
<line x1="429.08" y1="436.40" x2="429.08" y2="442.40" stroke="#000" stroke-width="2"/>
<line x1="462.25" y1="436.40" x2="462.25" y2="442.40" stroke="#000" stroke-width="2"/>
<line x1="495.41" y1="436.40" x2="495.41" y2="442.40" stroke="#000" stroke-width="2"/>
<line x1="528.57" y1="436.40" x2="528.57" y2="442.40" stroke="#000" stroke-width="2"/>
<line x1="561.74" y1="436.40" x2="561.74" y2="442.40" stroke="#000" stroke-width="2"/>
<line x1="594.90" y1="436.40" x2="594.90" y2="442.40" stroke="#000" stroke-width="2"/>
<line x1="445.66" y1="436.40" x2="445.66" y2="440.20" stroke="#000" stroke-width="2"/>
<line x1="478.83" y1="436.40" x2="478.83" y2="440.20" stroke="#000" stroke-width="2"/>
<line x1="511.99" y1="436.40" x2="511.99" y2="440.20" stroke="#000" stroke-width="2"/>
<line x1="545.15" y1="436.40" x2="545.15" y2="440.20" stroke="#000" stroke-width="2"/>
<line x1="578.32" y1="436.40" x2="578.32" y2="440.20" stroke="#000" stroke-width="2"/>
<text x="431.28" y="425.90" font-size="19" text-anchor="middle">30</text>
<text x="464.45" y="425.90" font-size="19" text-anchor="middle">35</text>
<text x="497.61" y="425.90" font-size="19" text-anchor="middle">40</text>
<text x="530.77" y="425.90" font-size="19" text-anchor="middle">45</text>
<text x="563.94" y="425.90" font-size="19" text-anchor="middle">50</text>
<text x="597.10" y="425.90" font-size="19" text-anchor="middle">55</text>
<text x="406.20" y="442.30" font-size="19" text-anchor="end">0</text>
<line x1="412.50" y1="477.22" x2="418.50" y2="477.22" stroke="#000" stroke-width="2"/>
<text x="406.20" y="483.12" font-size="19" text-anchor="end">10</text>
<line x1="412.50" y1="518.04" x2="418.50" y2="518.04" stroke="#000" stroke-width="2"/>
<text x="406.20" y="523.94" font-size="19" text-anchor="end">20</text>
<line x1="412.50" y1="558.86" x2="418.50" y2="558.86" stroke="#000" stroke-width="2"/>
<text x="406.20" y="564.76" font-size="19" text-anchor="end">30</text>
<line x1="412.50" y1="599.68" x2="418.50" y2="599.68" stroke="#000" stroke-width="2"/>
<text x="406.20" y="605.58" font-size="19" text-anchor="end">40</text>
<line x1="412.50" y1="640.50" x2="418.50" y2="640.50" stroke="#000" stroke-width="2"/>
<text x="406.20" y="646.40" font-size="19" text-anchor="end">50</text>
<line x1="412.50" y1="681.32" x2="418.50" y2="681.32" stroke="#000" stroke-width="2"/>
<text x="406.20" y="687.22" font-size="19" text-anchor="end">60</text>
<polyline points="455.50,477.22 444.20,558.86 436.20,640.50" fill="none" stroke="#008000" stroke-width="2.0" stroke-dasharray="11 5.9 2.4 6.2" stroke-linejoin="round"/>
<polyline points="454.50,477.22 443.70,558.86 438.70,640.50" fill="none" stroke="#ff0000" stroke-width="2.0" stroke-dasharray="11 5.9 2.4 6.2" stroke-linejoin="round"/>
<polyline points="561.30,477.22 503.20,558.86 507.50,640.50" fill="none" stroke="#0c0c8c" stroke-width="2.0" stroke-linejoin="round"/>
<polyline points="450.80,477.22 452.90,558.86 447.80,640.50" fill="none" stroke="#ff8000" stroke-width="2.0" stroke-linejoin="round"/>
<polyline points="450.00,477.22 452.80,558.86 428.10,640.50" fill="none" stroke="#000000" stroke-width="2.0" stroke-linejoin="round"/>
<polyline points="427.80,477.22 432.60,558.86 432.90,640.50" fill="none" stroke="#800080" stroke-width="2.0" stroke-linejoin="round"/>
<polygon points="450.40,474.28 460.60,474.28 455.50,483.11" fill="#fff" stroke="#008000" stroke-width="1.6" stroke-linejoin="miter"/>
<polygon points="439.10,555.92 449.30,555.92 444.20,564.75" fill="#fff" stroke="#008000" stroke-width="1.6" stroke-linejoin="miter"/>
<polygon points="431.10,637.56 441.30,637.56 436.20,646.39" fill="#fff" stroke="#008000" stroke-width="1.6" stroke-linejoin="miter"/>
<polygon points="449.40,474.28 459.60,474.28 454.50,483.11" fill="#fff" stroke="#ff0000" stroke-width="1.6" stroke-linejoin="miter"/>
<polygon points="438.60,555.92 448.80,555.92 443.70,564.75" fill="#fff" stroke="#ff0000" stroke-width="1.6" stroke-linejoin="miter"/>
<polygon points="433.60,637.56 443.80,637.56 438.70,646.39" fill="#fff" stroke="#ff0000" stroke-width="1.6" stroke-linejoin="miter"/>
<polygon points="556.20,474.28 566.40,474.28 561.30,483.11" fill="#fff" stroke="#0c0c8c" stroke-width="1.6" stroke-linejoin="miter"/>
<polygon points="498.10,555.92 508.30,555.92 503.20,564.75" fill="#fff" stroke="#0c0c8c" stroke-width="1.6" stroke-linejoin="miter"/>
<polygon points="502.40,637.56 512.60,637.56 507.50,646.39" fill="#fff" stroke="#0c0c8c" stroke-width="1.6" stroke-linejoin="miter"/>
<polygon points="445.70,474.28 455.90,474.28 450.80,483.11" fill="#fff" stroke="#ff8000" stroke-width="1.6" stroke-linejoin="miter"/>
<polygon points="447.80,555.92 458.00,555.92 452.90,564.75" fill="#fff" stroke="#ff8000" stroke-width="1.6" stroke-linejoin="miter"/>
<polygon points="442.70,637.56 452.90,637.56 447.80,646.39" fill="#fff" stroke="#ff8000" stroke-width="1.6" stroke-linejoin="miter"/>
<polygon points="444.90,474.28 455.10,474.28 450.00,483.11" fill="#fff" stroke="#000000" stroke-width="1.6" stroke-linejoin="miter"/>
<polygon points="447.70,555.92 457.90,555.92 452.80,564.75" fill="#fff" stroke="#000000" stroke-width="1.6" stroke-linejoin="miter"/>
<polygon points="423.00,637.56 433.20,637.56 428.10,646.39" fill="#fff" stroke="#000000" stroke-width="1.6" stroke-linejoin="miter"/>
<polygon points="422.70,474.28 432.90,474.28 427.80,483.11" fill="#fff" stroke="#800080" stroke-width="1.6" stroke-linejoin="miter"/>
<polygon points="427.50,555.92 437.70,555.92 432.60,564.75" fill="#fff" stroke="#800080" stroke-width="1.6" stroke-linejoin="miter"/>
<polygon points="427.80,637.56 438.00,637.56 432.90,646.39" fill="#fff" stroke="#800080" stroke-width="1.6" stroke-linejoin="miter"/>
<line x1="446.50" y1="477.42" x2="464.50" y2="477.42" stroke="#2a2a2a" stroke-width="1.4"/>
<line x1="446.50" y1="473.72" x2="446.50" y2="481.12" stroke="#2a2a2a" stroke-width="1.8"/>
<line x1="464.50" y1="473.72" x2="464.50" y2="481.12" stroke="#2a2a2a" stroke-width="1.8"/>
<line x1="441.20" y1="559.06" x2="447.20" y2="559.06" stroke="#2a2a2a" stroke-width="1.4"/>
<line x1="441.20" y1="555.36" x2="441.20" y2="562.76" stroke="#2a2a2a" stroke-width="1.8"/>
<line x1="447.20" y1="555.36" x2="447.20" y2="562.76" stroke="#2a2a2a" stroke-width="1.8"/>
<line x1="433.20" y1="640.70" x2="439.20" y2="640.70" stroke="#2a2a2a" stroke-width="1.4"/>
<line x1="433.20" y1="637.00" x2="433.20" y2="644.40" stroke="#2a2a2a" stroke-width="1.8"/>
<line x1="439.20" y1="637.00" x2="439.20" y2="644.40" stroke="#2a2a2a" stroke-width="1.8"/>
<line x1="451.50" y1="477.42" x2="457.50" y2="477.42" stroke="#2a2a2a" stroke-width="1.4"/>
<line x1="451.50" y1="473.72" x2="451.50" y2="481.12" stroke="#2a2a2a" stroke-width="1.8"/>
<line x1="457.50" y1="473.72" x2="457.50" y2="481.12" stroke="#2a2a2a" stroke-width="1.8"/>
<line x1="440.70" y1="559.06" x2="446.70" y2="559.06" stroke="#2a2a2a" stroke-width="1.4"/>
<line x1="440.70" y1="555.36" x2="440.70" y2="562.76" stroke="#2a2a2a" stroke-width="1.8"/>
<line x1="446.70" y1="555.36" x2="446.70" y2="562.76" stroke="#2a2a2a" stroke-width="1.8"/>
<line x1="435.70" y1="640.70" x2="441.70" y2="640.70" stroke="#2a2a2a" stroke-width="1.4"/>
<line x1="435.70" y1="637.00" x2="435.70" y2="644.40" stroke="#2a2a2a" stroke-width="1.8"/>
<line x1="441.70" y1="637.00" x2="441.70" y2="644.40" stroke="#2a2a2a" stroke-width="1.8"/>
<line x1="544.70" y1="477.42" x2="577.90" y2="477.42" stroke="#2a2a2a" stroke-width="1.4"/>
<line x1="544.70" y1="473.72" x2="544.70" y2="481.12" stroke="#2a2a2a" stroke-width="1.8"/>
<line x1="577.90" y1="473.72" x2="577.90" y2="481.12" stroke="#2a2a2a" stroke-width="1.8"/>
<line x1="501.20" y1="559.06" x2="505.20" y2="559.06" stroke="#2a2a2a" stroke-width="1.4"/>
<line x1="501.20" y1="555.36" x2="501.20" y2="562.76" stroke="#2a2a2a" stroke-width="1.8"/>
<line x1="505.20" y1="555.36" x2="505.20" y2="562.76" stroke="#2a2a2a" stroke-width="1.8"/>
<line x1="505.50" y1="640.70" x2="509.50" y2="640.70" stroke="#2a2a2a" stroke-width="1.4"/>
<line x1="505.50" y1="637.00" x2="505.50" y2="644.40" stroke="#2a2a2a" stroke-width="1.8"/>
<line x1="509.50" y1="637.00" x2="509.50" y2="644.40" stroke="#2a2a2a" stroke-width="1.8"/>
<line x1="447.80" y1="477.42" x2="453.80" y2="477.42" stroke="#2a2a2a" stroke-width="1.4"/>
<line x1="447.80" y1="473.72" x2="447.80" y2="481.12" stroke="#2a2a2a" stroke-width="1.8"/>
<line x1="453.80" y1="473.72" x2="453.80" y2="481.12" stroke="#2a2a2a" stroke-width="1.8"/>
<line x1="449.90" y1="559.06" x2="455.90" y2="559.06" stroke="#2a2a2a" stroke-width="1.4"/>
<line x1="449.90" y1="555.36" x2="449.90" y2="562.76" stroke="#2a2a2a" stroke-width="1.8"/>
<line x1="455.90" y1="555.36" x2="455.90" y2="562.76" stroke="#2a2a2a" stroke-width="1.8"/>
<line x1="444.80" y1="640.70" x2="450.80" y2="640.70" stroke="#2a2a2a" stroke-width="1.4"/>
<line x1="444.80" y1="637.00" x2="444.80" y2="644.40" stroke="#2a2a2a" stroke-width="1.8"/>
<line x1="450.80" y1="637.00" x2="450.80" y2="644.40" stroke="#2a2a2a" stroke-width="1.8"/>
<line x1="445.00" y1="477.42" x2="455.00" y2="477.42" stroke="#2a2a2a" stroke-width="1.4"/>
<line x1="445.00" y1="473.72" x2="445.00" y2="481.12" stroke="#2a2a2a" stroke-width="1.8"/>
<line x1="455.00" y1="473.72" x2="455.00" y2="481.12" stroke="#2a2a2a" stroke-width="1.8"/>
<line x1="445.80" y1="559.06" x2="459.80" y2="559.06" stroke="#2a2a2a" stroke-width="1.4"/>
<line x1="445.80" y1="555.36" x2="445.80" y2="562.76" stroke="#2a2a2a" stroke-width="1.8"/>
<line x1="459.80" y1="555.36" x2="459.80" y2="562.76" stroke="#2a2a2a" stroke-width="1.8"/>
<line x1="425.10" y1="640.70" x2="431.10" y2="640.70" stroke="#2a2a2a" stroke-width="1.4"/>
<line x1="425.10" y1="637.00" x2="425.10" y2="644.40" stroke="#2a2a2a" stroke-width="1.8"/>
<line x1="431.10" y1="637.00" x2="431.10" y2="644.40" stroke="#2a2a2a" stroke-width="1.8"/>
<line x1="425.80" y1="477.42" x2="429.80" y2="477.42" stroke="#2a2a2a" stroke-width="1.4"/>
<line x1="425.80" y1="473.72" x2="425.80" y2="481.12" stroke="#2a2a2a" stroke-width="1.8"/>
<line x1="429.80" y1="473.72" x2="429.80" y2="481.12" stroke="#2a2a2a" stroke-width="1.8"/>
<line x1="430.60" y1="559.06" x2="434.60" y2="559.06" stroke="#2a2a2a" stroke-width="1.4"/>
<line x1="430.60" y1="555.36" x2="430.60" y2="562.76" stroke="#2a2a2a" stroke-width="1.8"/>
<line x1="434.60" y1="555.36" x2="434.60" y2="562.76" stroke="#2a2a2a" stroke-width="1.8"/>
<line x1="430.90" y1="640.70" x2="434.90" y2="640.70" stroke="#2a2a2a" stroke-width="1.4"/>
<line x1="430.90" y1="637.00" x2="430.90" y2="644.40" stroke="#2a2a2a" stroke-width="1.8"/>
<line x1="434.90" y1="637.00" x2="434.90" y2="644.40" stroke="#2a2a2a" stroke-width="1.8"/></g>
</svg>
</body></html>
